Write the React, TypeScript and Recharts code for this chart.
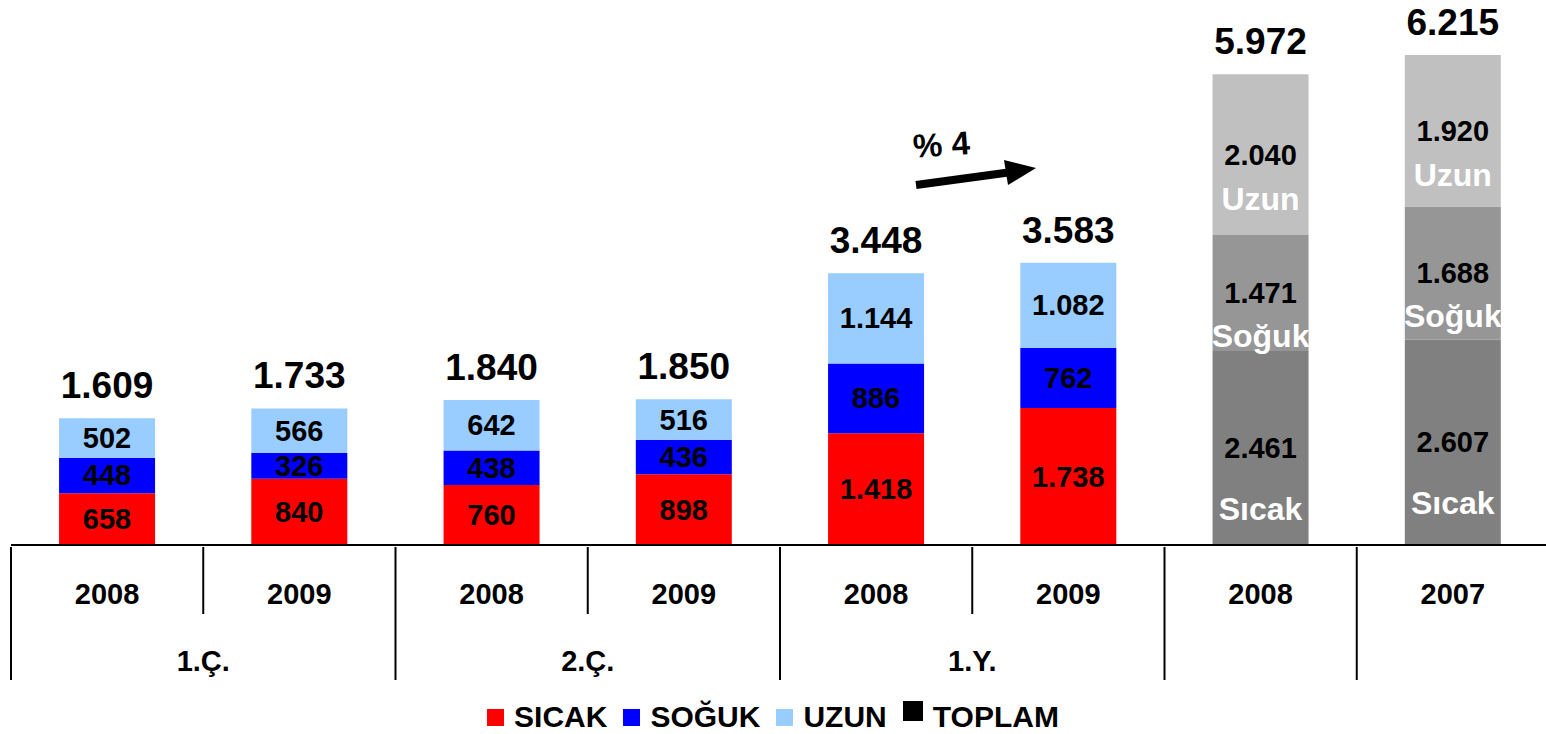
import { Bar, BarChart, Cell, LabelList, XAxis, YAxis } from "recharts";

// Values (Turkish thousands separator is ".")
const years = ["2008", "2009", "2008", "2009", "2008", "2009", "2008", "2007"];
const groups = ["1.Ç.", "1.Ç.", "2.Ç.", "2.Ç.", "1.Y.", "1.Y.", "", ""];
const sicak = [658, 840, 760, 898, 1418, 1738, 2461, 2607];
const soguk = [448, 326, 438, 436, 886, 762, 1471, 1688];
const uzun = [502, 566, 642, 516, 1144, 1082, 2040, 1920];
const toplam = [1609, 1733, 1840, 1850, 3448, 3583, 5972, 6215];
const fullYear = [false, false, false, false, false, false, true, true];

const data = years.map((y, i) => ({ id: String(i), sicak: sicak[i], soguk: soguk[i], uzun: uzun[i] }));

const COLORS = { sicak: "#ff0000", soguk: "#0000ff", uzun: "#99ccff" };
const GREYS = { sicak: "#808080", soguk: "#969696", uzun: "#c0c0c0" };
const NAMES = { sicak: "Sıcak", soguk: "Soğuk", uzun: "Uzun" };
const NAME_OFFSET = { sicak: 62, soguk: 44, uzun: 45 };

const FONT = "'Liberation Sans', Arial, sans-serif";
const CHART_W = 1549;
const LEFT = 11;
const BAND = (CHART_W - LEFT) / years.length;

function fmt(n: number) {
  return String(n).replace(/\B(?=(\d{3})+(?!\d))/g, ".");
}

function segLabel(key: "sicak" | "soguk" | "uzun", values: number[]) {
  return (p: any) => {
    const i = p.index;
    const cx = p.x + p.width / 2;
    const cy = p.y + p.height / 2;
    return (
      <g>
        <text x={cx} y={cy + 10} textAnchor="middle" fontFamily={FONT} fontWeight="bold" fontSize={29} fill="#000">
          {fmt(values[i])}
        </text>
        {fullYear[i] && (
          <text x={cx} y={cy + 10 + NAME_OFFSET[key]} textAnchor="middle" fontFamily={FONT} fontWeight="bold" fontSize={32} fill="#fff">
            {NAMES[key]}
          </text>
        )}
      </g>
    );
  };
}

function totalLabel(p: any) {
  return (
    <text x={p.x + p.width / 2} y={p.y - 20} textAnchor="middle" fontFamily={FONT} fontWeight="bold" fontSize={37} fill="#000">
      {fmt(toplam[p.index])}
    </text>
  );
}

function CategoryTick(p: any) {
  const i = p.index ?? p.payload.index;
  const x = p.x;
  const y = p.y;
  const left = x - BAND / 2;
  const long = i === 0 || groups[i] === "" || groups[i] !== groups[i - 1];
  const showGroup = groups[i] !== "" && groups[i + 1] === groups[i];
  return (
    <g>
      <line x1={left} x2={left} y1={y} y2={y + (long ? 133 : 67)} stroke="#000" strokeWidth={2} />
      {i === years.length - 1 && (
        <line x1={left + BAND} x2={left + BAND} y1={y} y2={y + 133} stroke="#000" strokeWidth={2} />
      )}
      <text x={x} y={y + 57} textAnchor="middle" fontFamily={FONT} fontWeight="bold" fontSize={29} fill="#000">
        {years[i]}
      </text>
      {showGroup && (
        <text x={x + BAND / 2} y={y + 124} textAnchor="middle" fontFamily={FONT} fontWeight="bold" fontSize={29} fill="#000">
          {groups[i]}
        </text>
      )}
    </g>
  );
}

const legendItems = [
  { label: "SICAK", color: COLORS.sicak, size: 17, lift: 0 },
  { label: "SOĞUK", color: COLORS.soguk, size: 17, lift: 0 },
  { label: "UZUN", color: COLORS.uzun, size: 17, lift: 0 },
  { label: "TOPLAM", color: "#000", size: 20, lift: 6 },
];

export default function App() {
  return (
    <div style={{ position: "relative", width: 1546, height: 734, overflow: "hidden", background: "#fff" }}>
      <style>{`body{margin:0}`}</style>
      <BarChart
        width={CHART_W}
        height={690}
        data={data}
        margin={{ top: 9, right: 0, left: LEFT, bottom: 0 }}
        barCategoryGap="25%"
      >
        <YAxis hide domain={[0, 6800]} />
        <XAxis
          dataKey="id"
          interval={0}
          height={145}
          tickSize={0}
          tickLine={false}
          axisLine={{ stroke: "#000", strokeWidth: 2 }}
          tick={<CategoryTick />}
        />
        <Bar dataKey="sicak" stackId="a" isAnimationActive={false}>
          {data.map((_, i) => (
            <Cell key={i} fill={fullYear[i] ? GREYS.sicak : COLORS.sicak} />
          ))}
          <LabelList content={segLabel("sicak", sicak)} />
        </Bar>
        <Bar dataKey="soguk" stackId="a" isAnimationActive={false}>
          {data.map((_, i) => (
            <Cell key={i} fill={fullYear[i] ? GREYS.soguk : COLORS.soguk} />
          ))}
          <LabelList content={segLabel("soguk", soguk)} />
        </Bar>
        <Bar dataKey="uzun" stackId="a" isAnimationActive={false}>
          {data.map((_, i) => (
            <Cell key={i} fill={fullYear[i] ? GREYS.uzun : COLORS.uzun} />
          ))}
          <LabelList content={segLabel("uzun", uzun)} />
          <LabelList content={totalLabel} />
        </Bar>
      </BarChart>

      {/* growth annotation between the two 1.Y. bars */}
      <svg style={{ position: "absolute", left: 900, top: 115 }} width={150} height={85}>
        <text x={13} y={41} fontFamily={FONT} fontWeight="bold" fontSize={33} fill="#000" transform="rotate(-4 40 30)">
          % 4
        </text>
        <line x1={16} y1={70} x2={112} y2={57} stroke="#000" strokeWidth={8} />
        <polygon points="104,45 136,53 108,70" fill="#000" />
      </svg>

      <div
        style={{
          position: "absolute",
          top: 700,
          left: 0,
          width: 1546,
          display: "flex",
          justifyContent: "center",
          alignItems: "center",
          gap: 16,
          fontFamily: FONT,
          fontWeight: "bold",
          fontSize: 30,
        }}
      >
        {legendItems.map((it) => (
          <div key={it.label} style={{ display: "flex", alignItems: "center", gap: 10 }}>
            <span
              style={{ width: it.size, height: it.size, background: it.color, display: "inline-block", position: "relative", top: -it.lift }}
            />
            <span>{it.label}</span>
          </div>
        ))}
      </div>
    </div>
  );
}
